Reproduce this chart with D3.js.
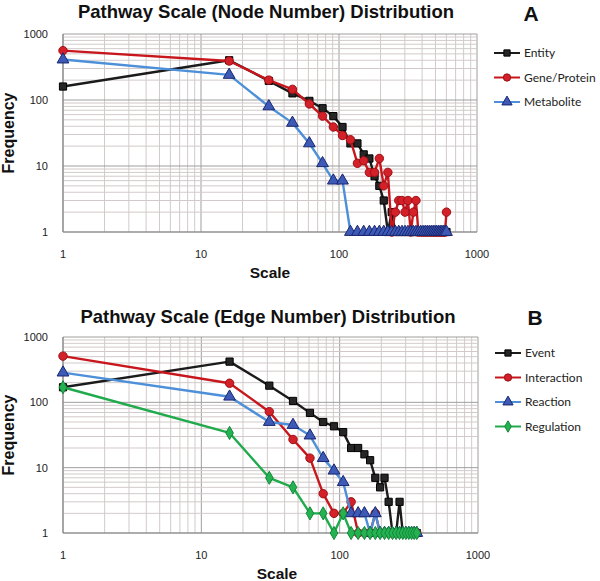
<!DOCTYPE html>
<html>
<head>
<meta charset="utf-8">
<script src="https://cdn.jsdelivr.net/npm/d3@7"></script>
<style>
  html, body { margin: 0; padding: 0; background: #fff; }
  svg { display: block; }
</style>
</head>
<body>
<div id="chart"></div>
<script>
// pathway scale bins (x axis)
const scaleBins = [1, 16, 31, 46, 61, 76, 91, 106, 121, 136, 151, 166, 181, 196, 211, 226,
  241, 256, 271, 286, 301, 316, 331, 346, 361, 376, 391, 406, 421, 436, 451, 466,
  481, 496, 511, 526, 541, 556, 571, 586, 601];
const scaleBinsB = scaleBins.slice(0, 25);

// panel A: node number
const entity = [160, 400, 195, 126, 97, 75, 57, 39, 22, 22, 15, 13, 7, 5, 3, 1,
  2, 1, 1, 1, 1, 1, 1, 1, 1, 1, 1, 1, 1, 1, 1, 1, 1, 1, 1, 1, 1, 1, 1, 1, 1];
const geneProtein = [560, 390, 200, 145, 87, 57, 39, 29, 25, 11, 12, 8, 8, 13, 5, 8,
  1, 2, 3, 3, 2, 3, 1, 2, 3, 1, 1, 1, 1, 1, 1, 1, 1, 1, 1, 1, 1, 1, 1, 1, 2];
const metabolite = [410, 240, 80, 45, 22, 11, 6, 6, 1, 1, 1, 1, 1, 1, 1, 1,
  1, 1, 1, 1, 1, 1, 1, 1, 1, 1, 1, 1, 1, 1, 1, 1, 1, 1, 1, 1, 1, 1, 1, 1, 1];

// panel B: edge number
const event = [170, 420, 180, 105, 69, 50, 43, 35, 20, 20, 16, 13, 7, 5, 7, 3,
  1, 1, 3, 1, 1, 1, 1, 1, 1];
const interaction = [510, 196, 72, 27, 14, 4, 2, 2, 3, 1, 1, 1, 2, 1, 1, 1,
  1, 1, 1, 1, 1, 1, 1, 1, 1];
const reaction = [285, 122, 50, 45, 31, 14, 9, 6, 2, 2, 2, 1, 2, 1, 1, 1,
  1, 1, 1, 1, 1, 1, 1, 1, 1];
const regulation = [170, 34, 7, 5, 2, 2, 1, 2, 1, 1, 1, 1, 1, 1, 1, 1,
  1, 1, 1, 1, 1, 1, 1, 1, 1];

const tickLabels = [1, 10, 100, 1000];

const STYLES = {
  black: { line: "#1b1b1b", fill: "#262626", stroke: "#000", symbol: d3.symbolSquare, size: 52 },
  red: { line: "#c8161d", fill: "#d42028", stroke: "#9c1016", symbol: d3.symbolCircle, size: 56 },
  blue: { line: "#4d8fd8", fill: "#3d5ab6", stroke: "#1a2670", symbol: d3.symbolTriangle, size: 60 },
  green: { line: "#20aa4c", fill: "#25b352", stroke: "#13863a", symbol: d3.symbolDiamond, size: 50 }
};

const width = 600;
const height = 581;

const svg = d3.select("#chart")
  .append("svg")
  .attr("width", width)
  .attr("height", height)
  .attr("viewBox", `0 0 ${width} ${height}`);

function drawPanel(cfg) {
  const x = d3.scaleLog().domain([1, 1000]).range([cfg.left, cfg.right]);
  const y = d3.scaleLog().domain([1, 1000]).range([cfg.bottom, cfg.top]);
  const g = svg.append("g");

  const isMajor = (v) => Math.abs(Math.log10(v) - Math.round(Math.log10(v))) < 1e-9;

  // grid
  const grid = g.append("g");
  x.ticks().forEach((v) => {
    grid.append("line")
      .attr("x1", x(v)).attr("x2", x(v))
      .attr("y1", cfg.top).attr("y2", cfg.bottom)
      .attr("stroke", isMajor(v) ? "#9e9e9e" : "#d2caca")
      .attr("stroke-width", 1);
  });
  y.ticks().forEach((v) => {
    grid.append("line")
      .attr("x1", cfg.left).attr("x2", cfg.right)
      .attr("y1", y(v)).attr("y2", y(v))
      .attr("stroke", isMajor(v) ? "#9e9e9e" : "#d2caca")
      .attr("stroke-width", 1);
  });

  // axis lines
  g.append("line")
    .attr("x1", cfg.left).attr("x2", cfg.left)
    .attr("y1", cfg.top).attr("y2", cfg.bottom)
    .attr("stroke", "#8a8a8a").attr("stroke-width", 1.2);
  g.append("line")
    .attr("x1", cfg.left).attr("x2", cfg.right)
    .attr("y1", cfg.bottom).attr("y2", cfg.bottom)
    .attr("stroke", "#8a8a8a").attr("stroke-width", 1.2);

  // tick labels
  g.selectAll("text.ytick")
    .data(tickLabels)
    .join("text")
    .attr("class", "ytick")
    .attr("x", cfg.left - 15)
    .attr("y", (d) => y(d) + 4)
    .attr("text-anchor", "end")
    .attr("font-family", "Liberation Sans, Arial, sans-serif")
    .attr("font-size", 11)
    .attr("fill", "#222")
    .text((d) => d);
  g.selectAll("text.xtick")
    .data(tickLabels)
    .join("text")
    .attr("class", "xtick")
    .attr("x", (d) => x(d))
    .attr("y", cfg.bottom + 26)
    .attr("text-anchor", "middle")
    .attr("font-family", "Liberation Sans, Arial, sans-serif")
    .attr("font-size", 11)
    .attr("fill", "#222")
    .text((d) => d);

  // title, panel letter, axis titles
  g.append("text")
    .attr("x", cfg.titleX)
    .attr("y", cfg.titleY)
    .attr("text-anchor", "middle")
    .attr("font-family", "Liberation Sans, Arial, sans-serif")
    .attr("font-weight", "bold")
    .attr("font-size", 18.5)
    .attr("fill", "#111")
    .text(cfg.title);
  g.append("text")
    .attr("x", cfg.letterX)
    .attr("y", cfg.letterY)
    .attr("text-anchor", "middle")
    .attr("font-family", "Liberation Sans, Arial, sans-serif")
    .attr("font-weight", "bold")
    .attr("font-size", 21)
    .attr("fill", "#111")
    .text(cfg.letter);
  g.append("text")
    .attr("x", cfg.scaleX)
    .attr("y", cfg.bottom + 46)
    .attr("text-anchor", "middle")
    .attr("font-family", "Liberation Sans, Arial, sans-serif")
    .attr("font-weight", "bold")
    .attr("font-size", 15.5)
    .attr("fill", "#111")
    .text("Scale");
  g.append("text")
    .attr("transform", `translate(14,${(cfg.top + cfg.bottom) / 2}) rotate(-90)`)
    .attr("text-anchor", "middle")
    .attr("font-family", "Liberation Sans, Arial, sans-serif")
    .attr("font-weight", "bold")
    .attr("font-size", 16)
    .attr("fill", "#111")
    .text("Frequency");

  // series
  const line = d3.line()
    .x((d) => x(d[0]))
    .y((d) => y(d[1]));

  cfg.series.forEach((s) => {
    const st = STYLES[s.style];
    const pts = cfg.bins.map((b, i) => [b, s.values[i]]);
    g.append("path")
      .datum(pts)
      .attr("d", line)
      .attr("fill", "none")
      .attr("stroke", st.line)
      .attr("stroke-width", 2.4)
      .attr("stroke-linejoin", "round");
    g.append("g")
      .selectAll("path")
      .data(pts)
      .join("path")
      .attr("transform", (d) => `translate(${x(d[0])},${y(d[1])})`)
      .attr("d", d3.symbol().type(st.symbol).size(st.size))
      .attr("fill", st.fill)
      .attr("stroke", st.stroke)
      .attr("stroke-width", 1);
  });

  // legend
  const lg = g.append("g");
  cfg.series.forEach((s, i) => {
    const st = STYLES[s.style];
    const ly = cfg.legendY + i * cfg.legendGap;
    lg.append("line")
      .attr("x1", cfg.legendX).attr("x2", cfg.legendX + 26)
      .attr("y1", ly).attr("y2", ly)
      .attr("stroke", st.line).attr("stroke-width", 2);
    lg.append("path")
      .attr("transform", `translate(${cfg.legendX + 13},${ly})`)
      .attr("d", d3.symbol().type(st.symbol).size(st.size * 0.75))
      .attr("fill", st.fill)
      .attr("stroke", st.stroke)
      .attr("stroke-width", 1);
    lg.append("text")
      .attr("x", cfg.legendX + 30)
      .attr("y", ly + 4)
      .attr("font-family", "Lato, Open Sans, sans-serif")
      .attr("font-size", 12)
      .attr("fill", "#222")
      .text(s.name);
  });
}

drawPanel({
  left: 63, right: 477, top: 34, bottom: 232,
  title: "Pathway Scale (Node Number) Distribution", titleX: 266, titleY: 18,
  letter: "A", letterX: 531, letterY: 21,
  scaleX: 270,
  legendX: 494, legendY: 53, legendGap: 24.5,
  bins: scaleBins,
  series: [
    { name: "Entity", values: entity, style: "black" },
    { name: "Gene/Protein", values: geneProtein, style: "red" },
    { name: "Metabolite", values: metabolite, style: "blue" }
  ]
});

drawPanel({
  left: 63, right: 478, top: 337, bottom: 533,
  title: "Pathway Scale (Edge Number) Distribution", titleX: 268, titleY: 323,
  letter: "B", letterX: 535, letterY: 325,
  scaleX: 277,
  legendX: 495, legendY: 353, legendGap: 24.5,
  bins: scaleBinsB,
  series: [
    { name: "Event", values: event, style: "black" },
    { name: "Interaction", values: interaction, style: "red" },
    { name: "Reaction", values: reaction, style: "blue" },
    { name: "Regulation", values: regulation, style: "green" }
  ]
});
</script>
</body>
</html>
